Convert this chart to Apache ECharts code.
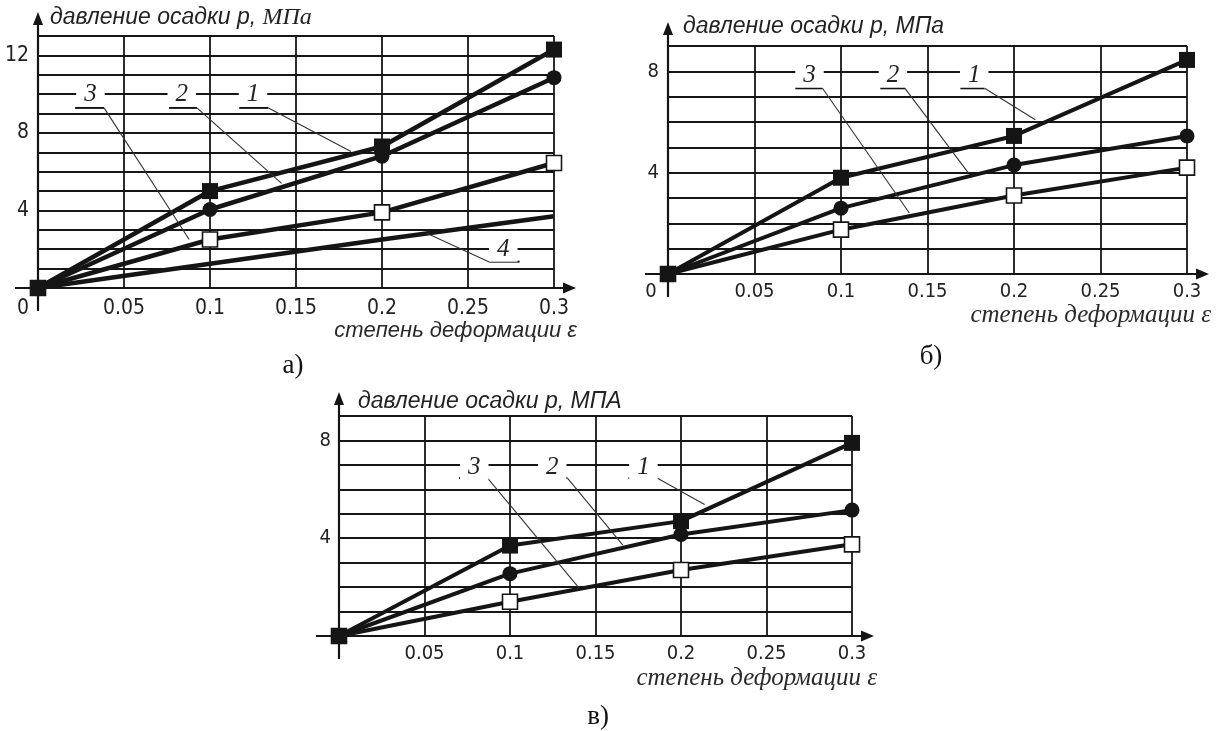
<!DOCTYPE html>
<html>
<head>
<meta charset="utf-8">
<script src="https://cdn.jsdelivr.net/npm/echarts@6/dist/echarts.min.js"></script>
<style>
  html, body { margin: 0; padding: 0; background: #fff; }
  #main { width: 1218px; height: 731px; }
</style>
</head>
<body>
<div id="main"></div>
<script>
var chartDom = document.getElementById('main');
var myChart = echarts.init(chartDom);
var option;

// strain values (x) shared by all three panels
var strain = [0, 0.1, 0.2, 0.3];

// panel а) pressure, MPa
var pA1 = [0, 5.0, 7.3, 12.3];
var pA2 = [0, 4.05, 6.8, 10.85];
var pA3 = [0, 2.5, 3.9, 6.45];
var pA4 = [0, 1.25, 2.5, 3.7];
// panel б)
var pB1 = [0, 3.8, 5.45, 8.45];
var pB2 = [0, 2.6, 4.3, 5.45];
var pB3 = [0, 1.75, 3.1, 4.2];
// panel в)
var pV1 = [0, 3.7, 4.7, 7.9];
var pV2 = [0, 2.55, 4.15, 5.15];
var pV3 = [0, 1.4, 2.7, 3.75];

var yMax = [13, 9, 9];
var panelTags = ['а)', 'б)', 'в)'];
var xTitle = 'степень деформации ε';

// callouts: number, label point, underline [x1, x2, y], leader [from, to]  (data units)
var calloutsA = [
  ['3', [0.0305, 10], [0.0216, 0.0384, 9.29], [[0.0384, 9.29], [0.0879, 2.5]]],
  ['2', [0.0836, 10], [0.0762, 0.0924, 9.29], [[0.0924, 9.29], [0.1416, 5.4]]],
  ['1', [0.125, 10], [0.117, 0.134, 9.29], [[0.134, 9.29], [0.182, 7.04]]],
  ['4', [0.2705, 2], [0.262, 0.280, 1.36], [[0.262, 1.36], [0.226, 2.82]]]
];
var calloutsB = [
  ['3', [0.0818, 7.85], [0.0736, 0.0893, 7.33], [[0.0893, 7.33], [0.1395, 2.41]]],
  ['2', [0.130, 7.85], [0.1227, 0.137, 7.33], [[0.137, 7.33], [0.1737, 3.98]]],
  ['1', [0.177, 7.85], [0.169, 0.183, 7.33], [[0.183, 7.33], [0.2123, 6.09]]]
];
var calloutsV = [
  ['3', [0.0791, 6.9], [0.0702, 0.0869, 6.46], [[0.0869, 6.46], [0.1403, 1.97]]],
  ['2', [0.1247, 6.9], [0.1192, 0.1336, 6.46], [[0.1336, 6.46], [0.166, 3.72]]],
  ['1', [0.178, 6.9], [0.1693, 0.186, 6.46], [[0.186, 6.46], [0.2138, 5.38]]]
];

var INK = '#151515';
var TICK_FONT = "'Liberation Sans Narrow', 'Arial Narrow', 'DejaVu Sans Condensed', 'Roboto', sans-serif";
var SANS = "'Liberation Sans', Arial, sans-serif";
var SERIF = "'Liberation Serif', 'Times New Roman', serif";

var panels = [
  {
    grid: { left: 38, top: 36, width: 516, height: 252 },
    curves: [pA1, pA2, pA3, pA4], callouts: calloutsA, zero: 30,
    xMargin: 10, yMargin: 9, lineW: 4.5, tickSize: 21,
    yTitle: { x: 50, y: 18, rich: true }, xTitle: { x: 577, y: 331, serif: false },
    tag: { x: 293, y: 366 }
  },
  {
    grid: { left: 668, top: 46, width: 519, height: 228 },
    curves: [pB1, pB2, pB3], callouts: calloutsB, zero: 34,
    xMargin: 8, yMargin: 9, lineW: 4, tickSize: 20,
    yTitle: { x: 683, y: 27, rich: false, unit: 'МПа' }, xTitle: { x: 1211, y: 315, serif: true },
    tag: { x: 931, y: 357 }
  },
  {
    grid: { left: 339, top: 416, width: 513, height: 220 },
    curves: [pV1, pV2, pV3], callouts: calloutsV, zero: 0,
    xMargin: 8, yMargin: 8, lineW: 4, tickSize: 20,
    yTitle: { x: 358, y: 402, rich: false, unit: 'МПА' }, xTitle: { x: 877, y: 678, serif: true },
    tag: { x: 598, y: 717 }
  }
];

var markerStyles = [
  { symbol: 'rect', symbolSize: 16, itemStyle: { color: INK, borderWidth: 0 }, z: 6 },
  { symbol: 'circle', symbolSize: 15, itemStyle: { color: INK, borderWidth: 0 }, z: 5 },
  { symbol: 'rect', symbolSize: 15, itemStyle: { color: '#fff', borderColor: INK, borderWidth: 1.6 }, z: 4 },
  { symbol: 'none', symbolSize: 0, itemStyle: { color: INK }, z: 3 }
];

var grids = [], xAxes = [], yAxes = [], series = [];
panels.forEach(function (p, i) {
  grids.push(Object.assign({ outerBoundsMode: 'none', containLabel: false }, p.grid));
  xAxes.push({
    type: 'value', gridIndex: i, min: 0, max: 0.3, interval: 0.05,
    axisLine: { show: false }, axisTick: { show: false },
    splitLine: { show: true, lineStyle: { color: '#161616', width: 1.8 } },
    axisLabel: {
      margin: p.xMargin, color: '#222', fontFamily: TICK_FONT, fontSize: p.tickSize,
      formatter: function (v) {
        if (v === 0) return p.zero ? '{z|0}' : '';
        return String(parseFloat(v.toFixed(2)));
      },
      rich: { z: { padding: [0, p.zero, 0, 0], fontFamily: TICK_FONT, fontSize: p.tickSize, color: '#222' } }
    }
  });
  yAxes.push({
    type: 'value', gridIndex: i, min: 0, max: yMax[i], interval: 1,
    axisLine: { show: false }, axisTick: { show: false },
    splitLine: { show: true, lineStyle: { color: '#161616', width: 1.8 } },
    axisLabel: {
      margin: p.yMargin, color: '#222', fontFamily: TICK_FONT, fontSize: p.tickSize,
      formatter: function (v) { return (v > 0 && v % 4 === 0) ? String(v) : ''; }
    }
  });
  p.curves.forEach(function (vals, k) {
    var m = markerStyles[k];
    series.push({
      type: 'line', name: String(k + 1), xAxisIndex: i, yAxisIndex: i,
      data: strain.map(function (x, j) { return [x, vals[j]]; }),
      symbol: m.symbol, symbolSize: m.symbolSize, showSymbol: m.symbol !== 'none',
      itemStyle: m.itemStyle, z: m.z, clip: false,
      lineStyle: { color: INK, width: p.lineW },
      emphasis: { disabled: true }
    });
  });
});

option = {
  backgroundColor: '#fff',
  animation: false,
  grid: grids,
  xAxis: xAxes,
  yAxis: yAxes,
  series: series
};
myChart.setOption(option);

// axes with arrows, titles and callouts, placed through the grids' own scales
function buildGraphics() {
  var els = [];
  panels.forEach(function (p, i) {
    var o = myChart.convertToPixel({ gridIndex: i }, [0, 0]);
    var e = myChart.convertToPixel({ gridIndex: i }, [0.3, yMax[i]]);
    var x0 = o[0], y0 = o[1], xr = e[0], yt = e[1];
    var xTip = xr + 22, yTip = yt - 24;
    els.push({ type: 'line', z: 20, shape: { x1: x0 - 23, y1: y0, x2: xTip - 10, y2: y0 }, style: { stroke: INK, lineWidth: 2.2 } });
    els.push({ type: 'polygon', z: 20, shape: { points: [[xTip, y0], [xTip - 13, y0 - 5.5], [xTip - 13, y0 + 5.5]] }, style: { fill: INK } });
    els.push({ type: 'line', z: 20, shape: { x1: x0, y1: y0 + 23, x2: x0, y2: yTip + 10 }, style: { stroke: INK, lineWidth: 2.2 } });
    els.push({ type: 'polygon', z: 20, shape: { points: [[x0, yTip], [x0 - 5, yTip + 13], [x0 + 5, yTip + 13]] }, style: { fill: INK } });

    // y title
    var yt0 = p.yTitle;
    var yText = yt0.rich ? '{s|давление осадки p, }{t|МПа}' : '{s|давление осадки p, ' + yt0.unit + '}';
    els.push({
      type: 'text', z: 20, x: yt0.x, y: yt0.y,
      style: {
        text: yText, verticalAlign: 'middle', align: 'left',
        rich: {
          s: { fontFamily: SANS, fontStyle: 'italic', fontSize: 23, fill: '#222' },
          t: { fontFamily: SERIF, fontStyle: 'italic', fontSize: 24, fill: '#222' }
        }
      }
    });
    // x title
    els.push({
      type: 'text', z: 20, x: p.xTitle.x, y: p.xTitle.y,
      style: {
        text: xTitle, align: 'right', verticalAlign: 'middle', fill: '#2a2a2a',
        fontFamily: p.xTitle.serif ? SERIF : SANS, fontStyle: 'italic',
        fontSize: p.xTitle.serif ? 25 : 22
      }
    });
    // panel tag
    els.push({
      type: 'text', z: 20, x: p.tag.x, y: p.tag.y,
      style: { text: panelTags[i], align: 'center', verticalAlign: 'middle', fill: '#111', fontFamily: SERIF, fontSize: 27 }
    });

    // callouts
    p.callouts.forEach(function (c) {
      var a = myChart.convertToPixel({ gridIndex: i }, [c[2][0], c[2][2]]);
      var b = myChart.convertToPixel({ gridIndex: i }, [c[2][1], c[2][2]]);
      var l0 = myChart.convertToPixel({ gridIndex: i }, c[3][0]);
      var l1 = myChart.convertToPixel({ gridIndex: i }, c[3][1]);
      var t = myChart.convertToPixel({ gridIndex: i }, c[1]);
      els.push({ type: 'line', z: 15, shape: { x1: a[0], y1: a[1], x2: b[0], y2: b[1] }, style: { stroke: INK, lineWidth: 2 } });
      els.push({ type: 'line', z: 15, shape: { x1: l0[0], y1: l0[1], x2: l1[0], y2: l1[1] }, style: { stroke: '#333', lineWidth: 1.1 } });
      els.push({
        type: 'text', z: 16, x: t[0], y: t[1],
        style: {
          text: c[0], align: 'center', verticalAlign: 'middle', fill: '#222',
          fontFamily: SERIF, fontStyle: 'italic', fontSize: 25,
          backgroundColor: '#fff', padding: [0, 8, 0, 8]
        }
      });
    });
  });
  return els;
}

myChart.setOption({ graphic: buildGraphics() });
</script>
</body>
</html>
